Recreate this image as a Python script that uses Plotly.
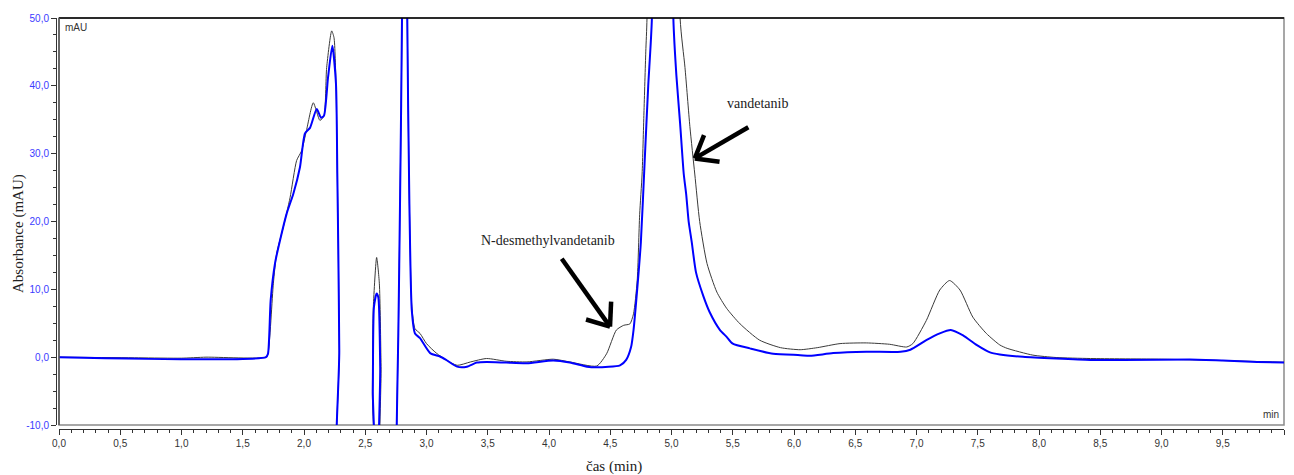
import plotly.graph_objects as go
import math

# ---------------- data ----------------
# black trace (sample 1)
black_t = [0.0, 0.65, 1.0, 1.2, 1.69, 1.706, 1.75, 1.777, 1.83, 1.886, 1.94, 1.98, 2.02, 2.076,
           2.13, 2.163, 2.185, 2.226, 2.245, 2.261, 2.272, 2.280, 2.288, 2.295, 2.55, 2.558,
           2.566, 2.593, 2.615, 2.629, 2.64, 2.75, 2.757, 2.77, 2.784, 2.80, 2.81, 2.835,
           2.843, 2.86, 2.88, 2.906, 2.947, 3.0, 3.08, 3.16, 3.25, 3.36, 3.49, 3.65, 3.82,
           4.035, 4.17, 4.39, 4.47, 4.55, 4.61, 4.66, 4.69, 4.72, 4.74, 4.76, 4.775, 4.79,
           4.80, 4.86, 5.0, 5.07, 5.11, 5.15, 5.19, 5.23, 5.29, 5.37, 5.45, 5.56, 5.72,
           5.89, 6.05, 6.19, 6.376, 6.59, 6.78, 6.92, 6.97, 7.08, 7.19, 7.27, 7.355, 7.46,
           7.57, 7.68, 7.74, 7.95, 8.14, 8.42, 9.0, 9.5, 10.0]
black_y = [0.0, -0.1, -0.15, 0.0, 0.0, 0.5, 10.9, 15.3, 19.1, 23.5, 29.0, 30.4, 33.4, 37.5,
           34.9, 35.6, 42.7, 48.1, 47.1, 40.3, 27.0, 15.7, 1.0, -30, -30, -5.0,
           7.4, 14.7, 10.9, -1.4, -30, -30, -10, 3.5, 23.0, 50.0, 120, 120,
           50.0, 23.0, 7.5, 4.2, 3.5, 2.0, 0.6, -0.4, -1.2, -0.7, -0.2, -0.6, -0.7,
           -0.3, -0.7, -1.3, 0.5, 4.0, 4.7, 4.9, 6.4, 11.3, 21.0, 27.0, 36.0, 45.0,
           50.0, 200, 200, 50.0, 42.7, 34.0, 27.0, 20.0, 13.8, 9.6, 7.2, 4.9, 2.5,
           1.4, 1.1, 1.4, 2.0, 2.1, 1.9, 1.5, 2.0, 5.4, 9.9, 11.3, 9.9, 5.9,
           3.5, 1.8, 1.3, 0.3, -0.05, -0.2, -0.3, -0.5, -0.75]

# blue trace (sample 2)
blue_t = [0.0, 1.69, 1.706, 1.728, 1.763, 1.804, 1.859, 1.913, 1.967, 2.008, 2.049, 2.104,
          2.139, 2.163, 2.196, 2.231, 2.261, 2.272, 2.280, 2.288, 2.295, 2.553, 2.562,
          2.571, 2.593, 2.607, 2.622, 2.635, 2.75, 2.757, 2.77, 2.784, 2.80, 2.81, 2.835,
          2.843, 2.86, 2.88, 2.906, 2.947, 3.03, 3.11, 3.16, 3.25, 3.33, 3.41, 3.49, 3.65,
          3.82, 4.035, 4.17, 4.31, 4.39, 4.58, 4.63, 4.67, 4.69, 4.72, 4.75, 4.78, 4.81,
          4.84, 4.90, 4.96, 5.015, 5.04, 5.07, 5.10, 5.12, 5.14, 5.165, 5.2, 5.26, 5.31,
          5.396, 5.45, 5.5, 5.64, 5.83, 6.05, 6.13, 6.32, 6.59, 6.87, 6.95, 7.08, 7.19,
          7.28, 7.38, 7.49, 7.6, 7.68, 7.87, 8.14, 8.42, 8.69, 9.23, 9.5, 9.78, 10.0]
blue_y = [0.0, 0.0, 0.5, 8.4, 13.8, 17.2, 21.2, 24.1, 28.0, 33.0, 33.8, 36.6,
          35.3, 35.6, 41.2, 45.9, 40.3, 27.0, 15.7, 1.0, -30, -30, -5.0,
          7.4, 9.4, 8.8, -1.4, -30, -30, -10, 3.5, 23.0, 50.0, 120, 120,
          50.0, 23.0, 6.9, 3.5, 2.8, 0.6, 0.1, -0.4, -1.4, -1.4, -0.8, -0.7, -0.8,
          -0.9, -0.5, -0.8, -1.4, -1.5, -1.2, -0.4, 1.5, 4.0, 10.0, 17.0, 28.5, 40.0,
          50.0, 200, 200, 50.0, 41.5, 34.5, 27.0, 24.0, 20.0, 17.0, 12.5, 9.0, 6.7,
          4.0, 3.0, 2.0, 1.3, 0.5, 0.3, 0.2, 0.6, 0.8, 0.8, 1.1, 2.5, 3.5,
          4.0, 3.2, 1.8, 0.7, 0.4, 0.05, -0.2, -0.4, -0.4, -0.35, -0.5, -0.7, -0.8]

x_tickvals = [i * 0.5 for i in range(21)]
x_ticktext = ["0,0", "0,5", "1,0", "1,5", "2,0", "2,5", "3,0", "3,5", "4,0", "4,5", "5,0",
              "5,5", "6,0", "6,5", "7,0", "7,5", "8,0", "8,5", "9,0", "9,5", "10,0"]
y_tickvals = [-10, 0, 10, 20, 30, 40, 50]
y_ticktext = ["-10,0", "0,0", "10,0", "20,0", "30,0", "40,0", "50,0"]

# labels: (text, x, y) and arrows: (tail_x, tail_y, head_x, head_y)
label_text = ["vandetanib", "N-desmethylvandetanib"]
label_x = [5.70, 3.994]
label_y = [37.4, 17.2]
arrow_tail = [(5.627, 33.9), (4.104, 14.5)]
arrow_head = [(5.19, 29.3), (4.498, 4.5)]

# ---------------- layout geometry ----------------
W, H = 1294, 475
ML, MR, MT, MB = 56, 10, 18, 46
paper_w = W - ML - MR
paper_h = H - MT - MB
x_dom0 = 3 / paper_w
y_dom0 = 4 / paper_h
XR = [0, 10]
YR = [-10, 50]
plot_w = paper_w * (1 - x_dom0)
plot_h = paper_h * (1 - y_dom0)
sx = plot_w / (XR[1] - XR[0])
sy = plot_h / (YR[1] - YR[0])

SERIF = "Times New Roman, Liberation Serif, serif"
SANS = "Arial, Liberation Sans, sans-serif"

fig = go.Figure()
fig.add_trace(go.Scatter(x=black_t, y=black_y, mode="lines",
                         line=dict(color="#3a3a3a", width=1, shape="spline", smoothing=0.6),
                         showlegend=False))
fig.add_trace(go.Scatter(x=blue_t, y=blue_y, mode="lines",
                         line=dict(color="#0000ff", width=2, shape="spline", smoothing=0.6),
                         showlegend=False))

shapes = []
# frame
shapes.append(dict(type="rect", xref="x domain", yref="y domain", x0=0, x1=1, y0=0, y1=1,
                   line=dict(color="#8a8a8a", width=1.5), layer="below"))
shapes.append(dict(type="line", xref="x domain", yref="y domain", x0=0, x1=1, y0=1, y1=1,
                   line=dict(color="#000000", width=1.5)))
shapes.append(dict(type="line", xref="x domain", yref="y domain", x0=0, x1=0, y0=0, y1=1,
                   line=dict(color="#555555", width=1.5)))

# arrows (shaft + open V head), computed in pixel space
for (tx, ty), (hx, hy) in zip(arrow_tail, arrow_head):
    shapes.append(dict(type="line", xref="x", yref="y", x0=tx, y0=ty, x1=hx, y1=hy,
                       line=dict(color="black", width=4.5)))
    dxp = (tx - hx) * sx
    dyp = -(ty - hy) * sy
    ang = math.atan2(dyp, dxp)
    L = 25
    for da in (math.radians(38), -math.radians(38)):
        bx = L * math.cos(ang + da)
        by = L * math.sin(ang + da)
        shapes.append(dict(type="line", xref="x", yref="y", x0=hx, y0=hy,
                           x1=hx + bx / sx, y1=hy - by / sy,
                           line=dict(color="black", width=4.5)))

annotations = []
for txt, ax_, ay_ in zip(label_text, label_x, label_y):
    annotations.append(dict(text=txt, x=ax_, y=ay_, xref="x", yref="y", showarrow=False,
                            font=dict(family=SERIF, size=14, color="#222222")))
annotations.append(dict(text="mAU", xref="paper", yref="y domain", x=x_dom0 + 4 / paper_w,
                        y=1 - 9 / plot_h, xanchor="left", yanchor="middle", showarrow=False,
                        font=dict(family=SANS, size=10, color="#333333")))
annotations.append(dict(text="min", xref="paper", yref="y domain", x=1 - 3 / paper_w,
                        y=(425 - 414) / plot_h, xanchor="right", yanchor="middle",
                        showarrow=False, font=dict(family=SANS, size=10, color="#333333")))
annotations.append(dict(text="Absorbance (mAU)", xref="paper", yref="paper",
                        x=(18 - ML) / paper_w, y=(H - MB - 234) / paper_h, textangle=-90,
                        xanchor="center", yanchor="middle", showarrow=False,
                        font=dict(family=SERIF, size=15, color="#222222")))
annotations.append(dict(text="čas (min)", xref="paper", yref="paper",
                        x=(614 - ML) / paper_w, y=-(466 - (H - MB)) / paper_h,
                        xanchor="center", yanchor="middle", showarrow=False,
                        font=dict(family=SERIF, size=15, color="#222222")))

fig.update_layout(
    width=W, height=H,
    margin=dict(l=ML, r=MR, t=MT, b=MB),
    plot_bgcolor="white", paper_bgcolor="white",
    shapes=shapes, annotations=annotations,
    xaxis=dict(range=XR, domain=[x_dom0, 1], anchor="free", position=0,
               showgrid=False, zeroline=False, showline=True, linecolor="#333333", linewidth=1,
               ticks="outside", ticklen=5, tickcolor="#333333", tickwidth=1,
               tickvals=x_tickvals, ticktext=x_ticktext,
               tickfont=dict(family=SANS, size=10, color="#333333"),
               minor=dict(dtick=0.1, tick0=0, ticks="outside", ticklen=3,
                          tickcolor="#333333", showgrid=False)),
    yaxis=dict(range=YR, domain=[y_dom0, 1], anchor="free", position=0,
               showgrid=False, zeroline=False, showline=True, linecolor="#333333", linewidth=1,
               ticks="outside", ticklen=5, tickcolor="#333333", tickwidth=1,
               tickvals=y_tickvals, ticktext=y_ticktext,
               tickfont=dict(family=SANS, size=10, color="#3b3bff"),
               minor=dict(dtick=2.5, tick0=0, ticks="outside", ticklen=3,
                          tickcolor="#333333", showgrid=False)),
)

fig.write_html("out.html")
